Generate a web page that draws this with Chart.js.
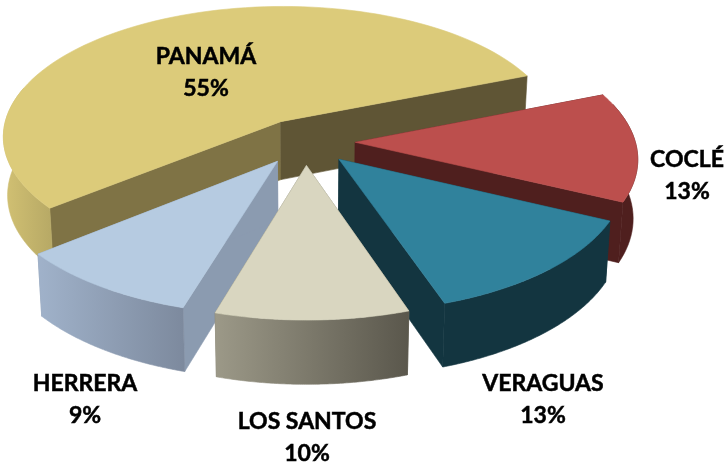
<!DOCTYPE html>
<html>
<head>
<meta charset="utf-8">
<style>html,body{margin:0;padding:0;background:#fff}canvas{display:block}</style>
<script src="https://cdn.jsdelivr.net/npm/chart.js@4/dist/chart.umd.min.js"></script>
</head>
<body>
<canvas id="c" width="724" height="466"></canvas>
<script>
const categories = ["PANAMÁ", "COCLÉ", "VERAGUAS", "LOS SANTOS", "HERRERA"];
const shares = [54.8, 13.2, 12.7, 9.8, 9.5];
const percentLabels = ["55%", "13%", "13%", "10%", "9%"];
const topColors = ["#dccb7a", "#bc4f4d", "#30829c", "#d9d6c0", "#b6cbe1"];
const startWallColors = ["#7f7345", "#4f1f1e", "#133540", "#7a7768", "#8b9bb0"];
const endWallColors = ["#5f5535", "#4f1f1e", "#133540", "#7a7768", "#8b9bb0"];
const outerLightColors = ["#d2c173", "#4f1f1e", "#133540", "#9c9988", "#a0b2ca"];
const outerDarkColors = ["#b8aa66", "#4f1f1e", "#133540", "#5a574c", "#7d8a9e"];
const labelAnchors = [[206, 57], [687, 160], [543, 384], [307, 422], [85, 384]];
const paintOrder = [0, 1, 4, 2, 3];

const view = {cx: 305.5, cy: 141.5, a: 280, b: 132, k: 0.11, drop: 58.6, spreadY: 0.0316, shrinkX: 0.986};

function project(X, Y, bottom) {
  const f = 1 / (1 - view.k * Y);
  const sx = view.a * X * f, sy = view.b * Y * f;
  if (!bottom) return [view.cx + sx, view.cy + sy];
  return [view.cx + sx * view.shrinkX, view.cy + view.drop + sy * (1 + view.spreadY)];
}
function fillPoly(ctx, pts, fill) {
  ctx.beginPath();
  pts.forEach((p, i) => i ? ctx.lineTo(p[0], p[1]) : ctx.moveTo(p[0], p[1]));
  ctx.closePath();
  ctx.fillStyle = fill; ctx.fill();
  ctx.strokeStyle = fill; ctx.lineWidth = 0.6; ctx.stroke();
}
const pie3d = {
  id: 'pie3d',
  beforeDatasetDraw(chart) {
    const ctx = chart.ctx;
    const arcs = chart.getDatasetMeta(0).data;
    paintOrder.forEach(i => {
      const el = arcs[i];
      const R = el.outerRadius, d = el.options.offset / R;
      const mid = (el.startAngle + el.endAngle) / 2;
      const ox = d * Math.cos(mid), oy = d * Math.sin(mid);
      const rim = [];
      const n = 90;
      for (let s = 0; s <= n; s++) {
        const t = el.startAngle + (el.endAngle - el.startAngle) * s / n;
        rim.push([ox + Math.cos(t), oy + Math.sin(t), Math.sin(t)]);
      }
      const topRim = rim.map(p => project(p[0], p[1], false));
      const botRim = rim.map(p => project(p[0], p[1], true));
      const apexT = project(ox, oy, false), apexB = project(ox, oy, true);
      // radial walls sit behind the rim wall
      fillPoly(ctx, [apexT, topRim[0], botRim[0], apexB], startWallColors[i]);
      fillPoly(ctx, [apexT, topRim[n], botRim[n], apexB], endWallColors[i]);
      // rim wall: only the part that faces the viewer
      const idx = rim.map((p, s) => p[2] > -0.3 ? s : -1).filter(s => s >= 0);
      if (idx.length > 1) {
        const t = idx.map(s => topRim[s]), b = idx.map(s => botRim[s]);
        const xs = t.map(p => p[0]);
        const g = ctx.createLinearGradient(Math.min(...xs), 0, Math.max(...xs), 0);
        g.addColorStop(0, outerLightColors[i]);
        g.addColorStop(1, outerDarkColors[i]);
        fillPoly(ctx, t.concat(b.reverse()), g);
      }
      // top
      fillPoly(ctx, [apexT].concat(topRim), el.options.backgroundColor);
    });
    return false;
  },
  afterDatasetsDraw(chart) {
    const ctx = chart.ctx;
    ctx.fillStyle = '#000';
    ctx.strokeStyle = '#000';
    ctx.lineWidth = 0.5;
    ctx.font = '700 23px Lato';
    ctx.textAlign = 'center';
    ctx.textBaseline = 'middle';
    categories.forEach((name, i) => {
      const [x, y] = labelAnchors[i];
      ctx.fillText(name, x, y);
      ctx.strokeText(name, x, y);
      ctx.fillText(percentLabels[i], x, y + 32);
      ctx.strokeText(percentLabels[i], x, y + 32);
    });
  }
};
new Chart(document.getElementById('c'), {
  type: 'pie',
  data: {labels: categories, datasets: [{data: shares, backgroundColor: topColors, borderWidth: 0, offset: 38}]},
  options: {
    responsive: false, animation: false, rotation: 230.8,
    plugins: {legend: {display: false}, tooltip: {enabled: false}}
  },
  plugins: [pie3d]
});
</script>
</body>
</html>
